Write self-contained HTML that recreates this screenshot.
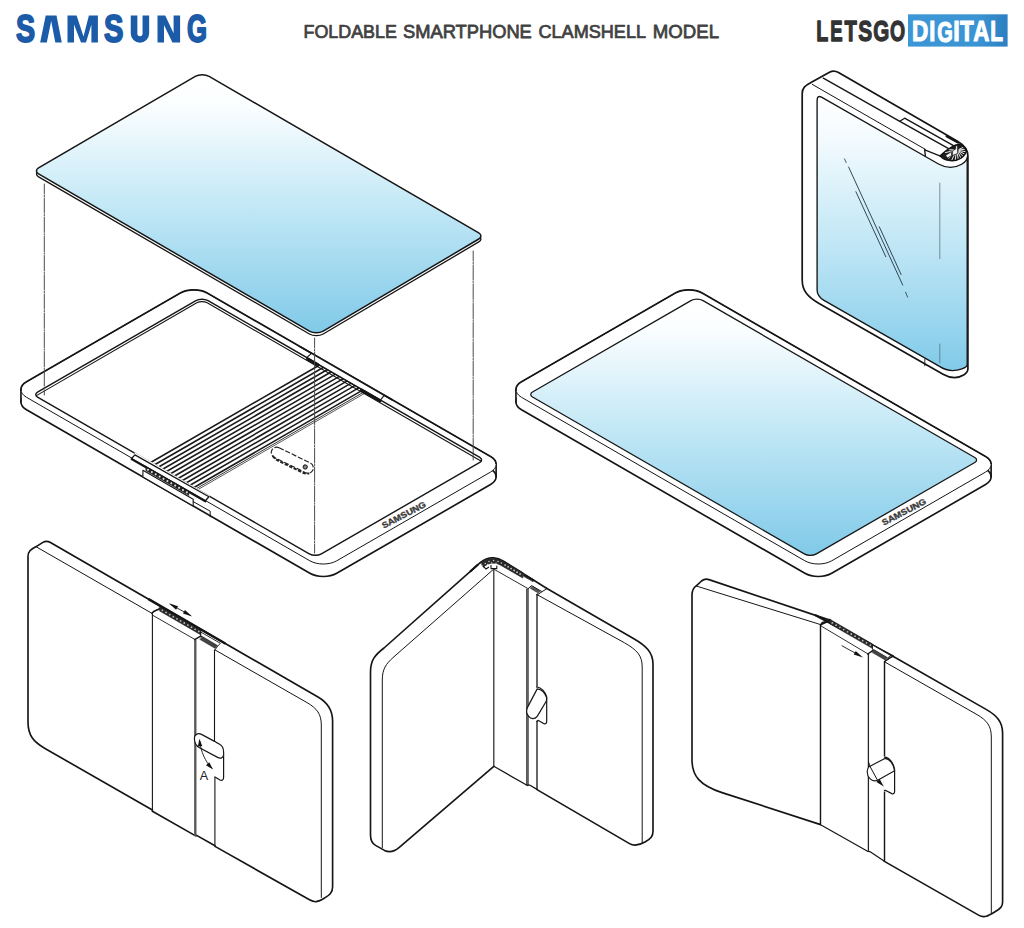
<!DOCTYPE html>
<html><head><meta charset="utf-8"><title>Foldable smartphone clamshell model</title>
<style>html,body{margin:0;padding:0;background:#fff}body{width:1024px;height:928px;overflow:hidden;font-family:"Liberation Sans",sans-serif}svg{display:block}</style>
</head><body>
<svg width="1024" height="928" viewBox="0 0 1024 928">
<rect width="1024" height="928" fill="#ffffff"/>
<defs>
<linearGradient id="gg" gradientUnits="userSpaceOnUse" x1="0" y1="74" x2="0" y2="336"><stop offset="0" stop-color="#ffffff"/><stop offset="0.12" stop-color="#fbfeff"/><stop offset="0.5" stop-color="#c3e8f6"/><stop offset="1" stop-color="#7fc9e8"/></linearGradient>
<linearGradient id="gs" gradientUnits="userSpaceOnUse" x1="0" y1="297" x2="0" y2="558"><stop offset="0" stop-color="#ffffff"/><stop offset="0.12" stop-color="#fbfeff"/><stop offset="0.5" stop-color="#c3e8f6"/><stop offset="1" stop-color="#7fc9e8"/></linearGradient>
<linearGradient id="g4" gradientUnits="userSpaceOnUse" x1="0" y1="95" x2="0" y2="372"><stop offset="0" stop-color="#ffffff"/><stop offset="0.15" stop-color="#f4fbfe"/><stop offset="0.55" stop-color="#bfe6f5"/><stop offset="1" stop-color="#80cae9"/></linearGradient>
<linearGradient id="gd" x1="0" y1="0" x2="1" y2="0"><stop offset="0" stop-color="#3d97d6"/><stop offset="0.7" stop-color="#3a94d4"/><stop offset="1" stop-color="#2c7fc0"/></linearGradient>
<clipPath id="c4h"><path d="M940.6 155.9 C943.5 158.6 947.5 160.1 952 160.1 C958 160.1 963.8 156.8 965.5 151.4 C965.4 149 963.2 146.4 959.6 145.2 C957.5 145 955.6 145.6 953.9 146.6 C949 149.4 944.4 152.6 940.6 155.9 Z"/></clipPath>
</defs>
<text transform="translate(15.99,42.16) scale(0.7417,1)" font-family="Liberation Sans, sans-serif" font-weight="bold" font-size="38.59" fill="#1b5ba8" stroke="#1b5ba8" stroke-width="1.9" stroke-linejoin="round">S</text>
<polygon points="40.15,42.6 45.7,15.6 56.5,15.6 61.8,42.6 55.3,42.6 51.2,21.0 46.8,42.6" fill="#1b5ba8"/>
<polygon points="67.5,42.6 67.5,15.6 76.6,15.6 83.5,36.5 88.9,15.6 97.9,15.6 97.9,42.6 91.4,42.6 91.4,24.5 86.0,42.6 81.0,42.6 74.0,24.5 74.0,42.6" fill="#1b5ba8"/>
<text transform="translate(103.98,42.16) scale(0.7547,1)" font-family="Liberation Sans, sans-serif" font-weight="bold" font-size="38.59" fill="#1b5ba8" stroke="#1b5ba8" stroke-width="1.9" stroke-linejoin="round">S</text>
<path d="M134.05 15.6 V33.6 A5.9 5.9 0 0 0 145.85 33.6 V15.6" fill="none" stroke="#1b5ba8" stroke-width="6.6"/>
<polygon points="157.5,42.6 157.5,15.6 165.2,15.6 173.6,33.2 173.6,15.6 180.1,15.6 180.1,42.6 172.4,42.6 164.0,25.0 164.0,42.6" fill="#1b5ba8"/>
<text transform="translate(187.12,42.16) scale(0.6681,1)" font-family="Liberation Sans, sans-serif" font-weight="bold" font-size="38.59" fill="#1b5ba8" stroke="#1b5ba8" stroke-width="1.9" stroke-linejoin="round">G</text>
<text transform="translate(303.50,37.73) scale(0.9720,1)" font-family="Liberation Sans, sans-serif" font-weight="normal" font-size="18.39" fill="#414141" stroke="#414141" stroke-width="0.75" stroke-linejoin="round">FOLDABLE</text>
<text transform="translate(402.95,37.73) scale(0.9966,1)" font-family="Liberation Sans, sans-serif" font-weight="normal" font-size="18.39" fill="#414141" stroke="#414141" stroke-width="0.75" stroke-linejoin="round">SMARTPHONE</text>
<text transform="translate(538.47,37.73) scale(0.9838,1)" font-family="Liberation Sans, sans-serif" font-weight="normal" font-size="18.39" fill="#414141" stroke="#414141" stroke-width="0.75" stroke-linejoin="round">CLAMSHELL</text>
<text transform="translate(652.84,37.73) scale(1.0126,1)" font-family="Liberation Sans, sans-serif" font-weight="normal" font-size="18.39" fill="#414141" stroke="#414141" stroke-width="0.75" stroke-linejoin="round">MODEL</text>
<rect x="908" y="14.3" width="99.6" height="32.3" fill="url(#gd)"/>
<text transform="translate(816.22,41.35) scale(0.6614,1)" font-family="Liberation Sans, sans-serif" font-weight="bold" font-size="29.80" fill="#333333" stroke="#333333" stroke-width="1.3" stroke-linejoin="round">L</text>
<text transform="translate(830.20,41.35) scale(0.6233,1)" font-family="Liberation Sans, sans-serif" font-weight="bold" font-size="29.80" fill="#333333" stroke="#333333" stroke-width="1.3" stroke-linejoin="round">E</text>
<text transform="translate(844.40,41.35) scale(0.6798,1)" font-family="Liberation Sans, sans-serif" font-weight="bold" font-size="29.80" fill="#333333" stroke="#333333" stroke-width="1.3" stroke-linejoin="round">T</text>
<text transform="translate(858.22,41.45) scale(0.6949,1)" font-family="Liberation Sans, sans-serif" font-weight="bold" font-size="30.11" fill="#333333" stroke="#333333" stroke-width="1.3" stroke-linejoin="round">S</text>
<text transform="translate(873.33,41.45) scale(0.6840,1)" font-family="Liberation Sans, sans-serif" font-weight="bold" font-size="30.11" fill="#333333" stroke="#333333" stroke-width="1.3" stroke-linejoin="round">G</text>
<text transform="translate(890.07,41.45) scale(0.6452,1)" font-family="Liberation Sans, sans-serif" font-weight="bold" font-size="30.11" fill="#333333" stroke="#333333" stroke-width="1.3" stroke-linejoin="round">O</text>
<text transform="translate(911.98,41.40) scale(0.7525,1)" font-family="Liberation Sans, sans-serif" font-weight="bold" font-size="29.94" fill="#ffffff" stroke="#ffffff" stroke-width="1.2" stroke-linejoin="round">D</text>
<text transform="translate(929.33,41.40) scale(0.7266,1)" font-family="Liberation Sans, sans-serif" font-weight="bold" font-size="29.94" fill="#ffffff" stroke="#ffffff" stroke-width="1.2" stroke-linejoin="round">I</text>
<text transform="translate(937.30,41.50) scale(0.6612,1)" font-family="Liberation Sans, sans-serif" font-weight="bold" font-size="30.25" fill="#ffffff" stroke="#ffffff" stroke-width="1.2" stroke-linejoin="round">G</text>
<text transform="translate(953.34,41.40) scale(0.7734,1)" font-family="Liberation Sans, sans-serif" font-weight="bold" font-size="29.94" fill="#ffffff" stroke="#ffffff" stroke-width="1.2" stroke-linejoin="round">I</text>
<text transform="translate(960.02,41.40) scale(0.7504,1)" font-family="Liberation Sans, sans-serif" font-weight="bold" font-size="29.94" fill="#ffffff" stroke="#ffffff" stroke-width="1.2" stroke-linejoin="round">T</text>
<text transform="translate(973.14,41.40) scale(0.7477,1)" font-family="Liberation Sans, sans-serif" font-weight="bold" font-size="29.94" fill="#ffffff" stroke="#ffffff" stroke-width="1.2" stroke-linejoin="round">A</text>
<text transform="translate(990.29,41.40) scale(0.6973,1)" font-family="Liberation Sans, sans-serif" font-weight="bold" font-size="29.94" fill="#ffffff" stroke="#ffffff" stroke-width="1.2" stroke-linejoin="round">L</text>
<g transform="translate(0,0)">
<path d="M180.34 305.55 C187.75 301.27 199.77 301.27 207.19 305.55 L490.56 469.05 C497.98 473.33 497.98 480.27 490.56 484.55 L336.74 573.30 C329.32 577.58 317.30 577.58 309.88 573.30 L26.51 409.80 C19.10 405.52 19.10 398.58 26.51 394.30 Z" fill="#fff" stroke="#151515" stroke-width="1.65" stroke-linejoin="round" stroke-linecap="round" />
<rect x="21.65" y="389.55" width="473.77" height="12.50" fill="#fff"/>
<line x1="20.95" y1="389.55" x2="20.95" y2="402.05" stroke="#151515" stroke-width="1.65" stroke-linecap="round" />
<line x1="496.12" y1="464.30" x2="496.12" y2="476.80" stroke="#151515" stroke-width="1.65" stroke-linecap="round" />
<path d="M180.34 293.05 C187.75 288.77 199.77 288.77 207.19 293.05 L490.56 456.55 C497.98 460.83 497.98 467.77 490.56 472.05 L336.74 560.80 C329.32 565.08 317.30 565.08 309.88 560.80 L26.51 397.30 C19.10 393.02 19.10 386.08 26.51 381.80 Z" fill="#fff" stroke="#151515" stroke-width="1.0" stroke-linejoin="round" stroke-linecap="round" />
<clipPath id="cua"><polygon points="15.95,390.05 15.95,0 501.12,0 501.12,464.80"/></clipPath>
<path d="M180.34 293.05 C187.75 288.77 199.77 288.77 207.19 293.05 L490.56 456.55 C497.98 460.83 497.98 467.77 490.56 472.05 L336.74 560.80 C329.32 565.08 317.30 565.08 309.88 560.80 L26.51 397.30 C19.10 393.02 19.10 386.08 26.51 381.80 Z" fill="none" stroke="#151515" stroke-width="1.65" stroke-linejoin="round" stroke-linecap="round" clip-path="url(#cua)"/>
<path d="M195.93 300.65 C199.28 298.72 204.71 298.72 208.06 300.65 L479.81 457.45 C482.20 458.83 482.20 461.07 479.81 462.45 L321.40 553.85 C318.05 555.78 312.62 555.78 309.27 553.85 L37.52 397.05 C35.13 395.67 35.13 393.43 37.52 392.05 Z" fill="none" stroke="#151515" stroke-width="1.4" stroke-linejoin="round" stroke-linecap="round" />
<path d="M36.40 395.65 C36.39 395.65 36.39 395.65 36.40 395.64 L196.80 302.85 C199.67 301.20 204.32 301.19 207.19 302.85 L480.93 461.04 C480.94 461.05 480.94 461.05 480.93 461.05 " fill="none" stroke="#151515" stroke-width="1.1" stroke-linejoin="round" stroke-linecap="round" />
<line x1="148.50" y1="463.72" x2="320.50" y2="364.47" stroke="#1a1a1a" stroke-width="1.55" stroke-linecap="round" />
<line x1="152.48" y1="465.97" x2="324.45" y2="366.74" stroke="#1a1a1a" stroke-width="1.55" stroke-linecap="round" />
<line x1="156.46" y1="468.22" x2="328.40" y2="369.01" stroke="#1a1a1a" stroke-width="1.55" stroke-linecap="round" />
<line x1="160.44" y1="470.48" x2="332.35" y2="371.28" stroke="#1a1a1a" stroke-width="1.55" stroke-linecap="round" />
<line x1="164.42" y1="472.73" x2="336.30" y2="373.55" stroke="#1a1a1a" stroke-width="1.55" stroke-linecap="round" />
<line x1="168.40" y1="474.98" x2="340.25" y2="375.83" stroke="#1a1a1a" stroke-width="1.55" stroke-linecap="round" />
<line x1="172.38" y1="477.24" x2="344.20" y2="378.10" stroke="#1a1a1a" stroke-width="1.55" stroke-linecap="round" />
<line x1="176.36" y1="479.49" x2="348.15" y2="380.37" stroke="#1a1a1a" stroke-width="1.55" stroke-linecap="round" />
<line x1="180.34" y1="481.74" x2="352.10" y2="382.64" stroke="#1a1a1a" stroke-width="1.55" stroke-linecap="round" />
<line x1="184.32" y1="484.00" x2="356.05" y2="384.91" stroke="#1a1a1a" stroke-width="1.55" stroke-linecap="round" />
<line x1="188.30" y1="486.25" x2="360.00" y2="387.18" stroke="#1a1a1a" stroke-width="1.55" stroke-linecap="round" />
<line x1="192.28" y1="488.50" x2="363.95" y2="389.45" stroke="#1a1a1a" stroke-width="1.55" stroke-linecap="round" />
<line x1="196.50" y1="488.57" x2="366.50" y2="390.48" stroke="#151515" stroke-width="0.85" stroke-linecap="round" />
<line x1="198.00" y1="489.53" x2="367.70" y2="391.61" stroke="#151515" stroke-width="0.7" stroke-linecap="round" />
<path d="M134.6 452.3 L209.4 495.4 L209.4 497.6 L134.6 454.6 Z" fill="#fff" stroke="#fff" stroke-width="0.1" stroke-linejoin="round" stroke-linecap="round" />
<path d="M134.9 454.9 L208.9 496.7 L205.4 500.7 L131.6 458.5 Z" fill="#fff" stroke="#151515" stroke-width="1.3" stroke-linejoin="round" stroke-linecap="round" />
<line x1="131.60" y1="459.10" x2="205.40" y2="501.30" stroke="#151515" stroke-width="2.2" stroke-linecap="round" />
<path d="M142.9 470.2 L193.2 499.3 L193.2 506.0 L142.9 477.0 Z" fill="#fff" stroke="#151515" stroke-width="1.1" stroke-linejoin="round" stroke-linecap="round" />
<path d="M146.0 466.6 L188.8 491.4 L188.8 495.6 L146.0 470.8 Z" fill="#222" stroke="#151515" stroke-width="0.5" stroke-linejoin="round" stroke-linecap="round" />
<circle cx="147.95" cy="469.83" r="1.05" fill="#ddd"/>
<circle cx="151.84" cy="472.08" r="1.05" fill="#ddd"/>
<circle cx="155.73" cy="474.34" r="1.05" fill="#ddd"/>
<circle cx="159.62" cy="476.59" r="1.05" fill="#ddd"/>
<circle cx="163.51" cy="478.85" r="1.05" fill="#ddd"/>
<circle cx="167.40" cy="481.10" r="1.05" fill="#ddd"/>
<circle cx="171.29" cy="483.35" r="1.05" fill="#ddd"/>
<circle cx="175.18" cy="485.61" r="1.05" fill="#ddd"/>
<circle cx="179.07" cy="487.86" r="1.05" fill="#ddd"/>
<circle cx="182.96" cy="490.12" r="1.05" fill="#ddd"/>
<circle cx="186.85" cy="492.37" r="1.05" fill="#ddd"/>
<path d="M193.2 501.6 L210.2 511.2 L210.2 516.8" fill="none" stroke="#151515" stroke-width="1.0" stroke-linejoin="round" stroke-linecap="round" />
<path d="M311.4 352.9 L384.4 395.0 L380.4 399.9 L307.0 357.5 Z" fill="#fff" stroke="#fff" stroke-width="0.1" stroke-linejoin="round" stroke-linecap="round" />
<path d="M311.2 353.6 L307.0 357.4 M384.0 395.6 L380.4 400.2" fill="none" stroke="#151515" stroke-width="1.1" stroke-linejoin="round" stroke-linecap="round" />
<line x1="307.00" y1="357.80" x2="380.40" y2="400.20" stroke="#151515" stroke-width="1.5" stroke-linecap="round" />
<line x1="307.60" y1="358.90" x2="318.00" y2="364.90" stroke="#151515" stroke-width="3.0" stroke-linecap="round" />
<line x1="361.50" y1="390.10" x2="379.80" y2="400.70" stroke="#151515" stroke-width="3.2" stroke-linecap="round" />
<line x1="300.00" y1="346.60" x2="392.00" y2="399.68" stroke="#151515" stroke-width="1.65" stroke-linecap="round" />
<g transform="translate(292.3,460.2) rotate(26)"><rect x="-22.8" y="-5.4" width="45.6" height="10.8" rx="5.4" fill="none" stroke="#222" stroke-width="1.15" stroke-dasharray="5.2 1.8"/><path d="M-19.5 4.6 C-17 6.4 -14 6.6 -10 6.6 L12 6.6 C16 6.6 19 6.2 21 4.4" fill="none" stroke="#222" stroke-width="2.0" stroke-dasharray="3.4 1.5"/><circle cx="14.6" cy="0.4" r="2.0" fill="#888" stroke="#222" stroke-width="1.0"/></g>
<text transform="translate(403.8,515.0) rotate(-27.5)" text-anchor="middle" font-family="Liberation Sans, sans-serif" font-weight="bold" font-size="8.6" fill="#3a3a3a" stroke="#3a3a3a" stroke-width="0.35" textLength="48.5" lengthAdjust="spacingAndGlyphs" dy="2.9">SAMSUNG</text>
</g>
<path d="M195.29 79.28 C199.10 77.06 205.29 77.05 209.11 79.27 L478.75 235.84 C481.62 237.50 481.63 240.22 478.78 241.91 L323.22 333.98 C319.42 336.23 313.24 336.25 309.42 334.03 L38.58 176.86 C35.71 175.20 35.71 172.50 38.57 170.82 Z" fill="#fff" stroke="#151515" stroke-width="1.3" stroke-linejoin="round" stroke-linecap="round" />
<path d="M195.29 76.38 C199.10 74.16 205.29 74.15 209.11 76.37 L478.75 232.94 C481.62 234.60 481.63 237.32 478.78 239.01 L323.22 331.08 C319.42 333.33 313.24 333.35 309.42 331.13 L38.58 173.96 C35.71 172.30 35.71 169.60 38.57 167.92 Z" fill="url(#gg)" stroke="#151515" stroke-width="1.5" stroke-linejoin="round" stroke-linecap="round" />
<line x1="44.30" y1="184.00" x2="44.30" y2="395.00" stroke="#4a4a4a" stroke-width="1.0" stroke-linecap="round" stroke-dasharray="15.3 1.3 1.3 1.3" stroke-dashoffset="5.3"/>
<line x1="473.20" y1="251.00" x2="473.20" y2="460.00" stroke="#4a4a4a" stroke-width="1.0" stroke-linecap="round" stroke-dasharray="15.3 1.3 1.3 1.3" stroke-dashoffset="5.3"/>
<line x1="314.60" y1="338.00" x2="314.60" y2="553.00" stroke="#4a4a4a" stroke-width="1.0" stroke-linecap="round" stroke-dasharray="15.3 1.3 1.3 1.3" stroke-dashoffset="5.3"/>
<g transform="translate(495.0,0)">
<path d="M180.34 305.55 C187.75 301.27 199.77 301.27 207.19 305.55 L490.56 469.05 C497.98 473.33 497.98 480.27 490.56 484.55 L336.74 573.30 C329.32 577.58 317.30 577.58 309.88 573.30 L26.51 409.80 C19.10 405.52 19.10 398.58 26.51 394.30 Z" fill="#fff" stroke="#151515" stroke-width="1.65" stroke-linejoin="round" stroke-linecap="round" />
<rect x="21.65" y="389.55" width="473.77" height="12.50" fill="#fff"/>
<line x1="20.95" y1="389.55" x2="20.95" y2="402.05" stroke="#151515" stroke-width="1.65" stroke-linecap="round" />
<line x1="496.12" y1="464.30" x2="496.12" y2="476.80" stroke="#151515" stroke-width="1.65" stroke-linecap="round" />
<path d="M180.34 293.05 C187.75 288.77 199.77 288.77 207.19 293.05 L490.56 456.55 C497.98 460.83 497.98 467.77 490.56 472.05 L336.74 560.80 C329.32 565.08 317.30 565.08 309.88 560.80 L26.51 397.30 C19.10 393.02 19.10 386.08 26.51 381.80 Z" fill="#fff" stroke="#151515" stroke-width="1.0" stroke-linejoin="round" stroke-linecap="round" />
<clipPath id="cub"><polygon points="15.95,390.05 15.95,0 501.12,0 501.12,464.80"/></clipPath>
<path d="M180.34 293.05 C187.75 288.77 199.77 288.77 207.19 293.05 L490.56 456.55 C497.98 460.83 497.98 467.77 490.56 472.05 L336.74 560.80 C329.32 565.08 317.30 565.08 309.88 560.80 L26.51 397.30 C19.10 393.02 19.10 386.08 26.51 381.80 Z" fill="none" stroke="#151515" stroke-width="1.65" stroke-linejoin="round" stroke-linecap="round" clip-path="url(#cub)"/>
<path d="M195.93 300.65 C199.28 298.72 204.71 298.72 208.06 300.65 L479.81 457.45 C482.20 458.83 482.20 461.07 479.81 462.45 L321.40 553.85 C318.05 555.78 312.62 555.78 309.27 553.85 L37.52 397.05 C35.13 395.67 35.13 393.43 37.52 392.05 Z" fill="url(#gs)" stroke="#151515" stroke-width="1.25" stroke-linejoin="round" stroke-linecap="round" />
<text transform="translate(409.0,512.0) rotate(-27.5)" text-anchor="middle" font-family="Liberation Sans, sans-serif" font-weight="bold" font-size="8.6" fill="#3a3a3a" stroke="#3a3a3a" stroke-width="0.35" textLength="48.5" lengthAdjust="spacingAndGlyphs" dy="2.9">SAMSUNG</text>
</g>
<path d="M802.2 280 L802.2 93.5 C802.2 88 805 85.8 811 82.6 L829.5 72.3 C832.5 70.6 835.5 70.8 838.5 72.6 L957.5 141.3 C963.5 144.8 967.9 149 967.9 156 L967.9 369 C967.9 373.5 961 377.6 954.6 377.6 C950 377.6 947 376.5 943.5 374.5 L819.5 303.8 C808 297.2 802.2 291 802.2 280 Z" fill="#fff" stroke="#151515" stroke-width="1.7" stroke-linejoin="round" stroke-linecap="round" />
<path d="M817.1 290 L817.1 100.5 C817.1 96.8 818.6 95.6 821.5 97.2 L938.5 164.0 C942 166 946 167.3 950.5 167.3 C958 167.3 967.2 162.5 967.2 157 L967.2 364.5 C967.2 368 958 370.6 952.4 370.6 C947 370.6 943 368.6 939.5 366.4 L824 300.4 C819 297.4 817.1 294.5 817.1 290 Z" fill="url(#g4)" stroke="#151515" stroke-width="1.35" stroke-linejoin="round" stroke-linecap="round" />
<line x1="812.30" y1="84.40" x2="925.20" y2="149.30" stroke="#151515" stroke-width="1.0" stroke-linecap="round" />
<path d="M823.3 78.2 L899.8 121.3 L948.6 148.6" fill="none" stroke="#151515" stroke-width="1.35" stroke-linejoin="round" stroke-linecap="round" />
<path d="M899.8 121.3 L904.6 118.2 L953.5 145.6" fill="none" stroke="#151515" stroke-width="1.35" stroke-linejoin="round" stroke-linecap="round" />
<line x1="946.60" y1="136.20" x2="958.00" y2="142.60" stroke="#151515" stroke-width="2.2" stroke-linecap="round" />
<path d="M924.6 149.3 L925.4 156.2 M925.4 150.2 L939.8 155.8" fill="none" stroke="#151515" stroke-width="1.35" stroke-linejoin="round" stroke-linecap="round" />
<path d="M939.8 155.9 C943 159.2 947.5 160.9 952 160.9 C958.5 160.9 964.6 157.2 966.3 151.4 C966.2 148.6 963.6 145.6 959.6 144.4 C957.5 144.2 955.4 144.8 953.5 145.8 C948.5 148.6 943.6 152.4 939.8 155.9 Z" fill="#1c1c1c" stroke="#111" stroke-width="1.3"/>
<line x1="958.96" y1="149.35" x2="967.02" y2="145.55" stroke="#f4f4f4" stroke-width="0.95" stroke-linecap="round" clip-path="url(#c4h)"/>
<line x1="959.18" y1="149.94" x2="968.00" y2="148.76" stroke="#f4f4f4" stroke-width="0.95" stroke-linecap="round" clip-path="url(#c4h)"/>
<line x1="959.16" y1="150.55" x2="967.93" y2="152.11" stroke="#f4f4f4" stroke-width="0.95" stroke-linecap="round" clip-path="url(#c4h)"/>
<line x1="958.91" y1="151.12" x2="966.80" y2="155.28" stroke="#f4f4f4" stroke-width="0.95" stroke-linecap="round" clip-path="url(#c4h)"/>
<line x1="958.44" y1="151.61" x2="964.73" y2="157.98" stroke="#f4f4f4" stroke-width="0.95" stroke-linecap="round" clip-path="url(#c4h)"/>
<line x1="957.80" y1="151.97" x2="961.91" y2="159.96" stroke="#f4f4f4" stroke-width="0.95" stroke-linecap="round" clip-path="url(#c4h)"/>
<line x1="957.05" y1="152.17" x2="958.60" y2="161.03" stroke="#f4f4f4" stroke-width="0.95" stroke-linecap="round" clip-path="url(#c4h)"/>
<line x1="956.26" y1="152.18" x2="955.10" y2="161.11" stroke="#f4f4f4" stroke-width="0.95" stroke-linecap="round" clip-path="url(#c4h)"/>
<line x1="955.50" y1="152.01" x2="951.74" y2="160.17" stroke="#f4f4f4" stroke-width="0.95" stroke-linecap="round" clip-path="url(#c4h)"/>
<line x1="954.84" y1="151.67" x2="948.83" y2="158.31" stroke="#f4f4f4" stroke-width="0.95" stroke-linecap="round" clip-path="url(#c4h)"/>
<line x1="954.35" y1="151.20" x2="946.64" y2="155.70" stroke="#f4f4f4" stroke-width="0.95" stroke-linecap="round" clip-path="url(#c4h)"/>
<line x1="954.06" y1="150.63" x2="945.37" y2="152.58" stroke="#f4f4f4" stroke-width="0.95" stroke-linecap="round" clip-path="url(#c4h)"/>
<line x1="954.01" y1="150.03" x2="945.14" y2="149.24" stroke="#f4f4f4" stroke-width="0.95" stroke-linecap="round" clip-path="url(#c4h)"/>
<path d="M945.6 155.4 L951.4 151.6 L951.4 155.8 L947.4 158.0 Z" fill="#f4f4f4" stroke="#111" stroke-width="0.7"/>
<path d="M952.6 151.0 L955.6 149.0 L955.6 146.2 L957.6 145.4 L957.6 153.4 L952.6 155.6 Z" fill="#f4f4f4" stroke="#111" stroke-width="0.7"/>
<line x1="844.50" y1="158.90" x2="846.20" y2="162.60" stroke="#234" stroke-width="0.8" stroke-linecap="round" />
<line x1="848.60" y1="167.00" x2="902.70" y2="285.00" stroke="#234" stroke-width="0.9" stroke-linecap="round" />
<line x1="855.90" y1="191.70" x2="885.80" y2="256.70" stroke="#234" stroke-width="0.9" stroke-linecap="round" />
<line x1="879.30" y1="226.80" x2="901.10" y2="274.50" stroke="#234" stroke-width="0.9" stroke-linecap="round" />
<line x1="905.60" y1="292.20" x2="907.60" y2="297.10" stroke="#234" stroke-width="0.8" stroke-linecap="round" />
<line x1="939.80" y1="183.10" x2="939.80" y2="258.60" stroke="#567" stroke-width="0.7" stroke-linecap="round" />
<line x1="939.80" y1="344.00" x2="939.80" y2="362.70" stroke="#567" stroke-width="0.7" stroke-linecap="round" />
<line x1="924.80" y1="359.30" x2="924.80" y2="365.80" stroke="#151515" stroke-width="0.9" stroke-linecap="round" />
<path d="M28 722 L28 556.5 C28 551.5 30.5 549.6 36.2 546.6 L42.5 542.6 C45.5 540.8 47.5 540.8 50 542.3 L318 697 C328 702.8 332.6 710 332.6 721 L332.6 887 C332.6 892.5 330 895 323 899 C317.5 902.3 314.5 902.6 309.5 899.8 L215 846.4 L215 845.8 L196.6 835.4 L195.2 835.6 L152.4 811.2 L152.4 810 L45 748.5 C33 741.5 28 735 28 722 Z" fill="#fff" stroke="#151515" stroke-width="1.65" stroke-linejoin="round" stroke-linecap="round" />
<line x1="36.20" y1="546.80" x2="151.90" y2="613.30" stroke="#151515" stroke-width="1.0" stroke-linecap="round" />
<path d="M215.3 650.1 L307 702.6 C317 708.4 321.3 714 321.3 725 L321.3 897.5" fill="none" stroke="#151515" stroke-width="1.0" stroke-linejoin="round" stroke-linecap="round" />
<line x1="152.40" y1="613.80" x2="152.40" y2="811.00" stroke="#151515" stroke-width="1.1" stroke-linecap="round" />
<line x1="195.30" y1="640.40" x2="195.30" y2="835.20" stroke="#555" stroke-width="2.3" stroke-linecap="round" />
<line x1="214.50" y1="650.00" x2="214.50" y2="742.40" stroke="#151515" stroke-width="1.1" stroke-linecap="round" />
<line x1="214.90" y1="776.80" x2="214.90" y2="846.00" stroke="#151515" stroke-width="1.1" stroke-linecap="round" />
<line x1="149.00" y1="599.40" x2="224.80" y2="643.20" stroke="#151515" stroke-width="2.4" stroke-linecap="round" />
<path d="M152.0 613.3 L153.6 611.6 L160.2 608.6" fill="none" stroke="#151515" stroke-width="1.6" stroke-linejoin="round" stroke-linecap="round" />
<line x1="153.10" y1="615.50" x2="194.60" y2="639.30" stroke="#151515" stroke-width="0.9" stroke-linecap="round" />
<path d="M194.6 639.6 L201.1 635.9" fill="none" stroke="#151515" stroke-width="1.4" stroke-linejoin="round" stroke-linecap="round" />
<path d="M159.6 606.6 L201.0 630.6 L201.0 635.0 L159.6 611.0 Z" fill="#2a2a2a" stroke="#151515" stroke-width="0.5" stroke-linejoin="round" stroke-linecap="round" />
<circle cx="162.42" cy="610.35" r="0.9" fill="#bbb"/>
<circle cx="166.05" cy="612.46" r="0.9" fill="#bbb"/>
<circle cx="169.69" cy="614.57" r="0.9" fill="#bbb"/>
<circle cx="173.33" cy="616.68" r="0.9" fill="#bbb"/>
<circle cx="176.96" cy="618.79" r="0.9" fill="#bbb"/>
<circle cx="180.60" cy="620.90" r="0.9" fill="#bbb"/>
<circle cx="184.24" cy="623.01" r="0.9" fill="#bbb"/>
<circle cx="187.87" cy="625.12" r="0.9" fill="#bbb"/>
<circle cx="191.51" cy="627.23" r="0.9" fill="#bbb"/>
<circle cx="195.15" cy="629.34" r="0.9" fill="#bbb"/>
<circle cx="198.78" cy="631.45" r="0.9" fill="#bbb"/>
<path d="M201.1 632.2 L220.4 643.3 L217.6 646.2 L201.1 636.4 Z" fill="#fff" stroke="#151515" stroke-width="0.9" stroke-linejoin="round" stroke-linecap="round" />
<path d="M202 636.2 L217.2 645.2 L215.2 648.4 L200.0 639.6 Z" fill="#444" stroke="#151515" stroke-width="0.4" stroke-linejoin="round" stroke-linecap="round" />
<line x1="214.90" y1="650.00" x2="217.60" y2="646.20" stroke="#151515" stroke-width="0.9" stroke-linecap="round" />
<line x1="171.00" y1="604.60" x2="190.00" y2="615.20" stroke="#151515" stroke-width="0.9" stroke-linecap="round" />
<polygon points="168.80,603.30 178.05,606.24 176.08,609.72" fill="#111"/>
<polygon points="192.20,616.50 182.95,613.56 184.92,610.08" fill="#111"/>
<path d="M214.5 741.4 L219.6 744.2 C222.5 745.8 223.6 748.6 223.6 752 L223.6 777.6 C223.6 779.8 222 781 220 780 L215.4 777.2" fill="#fff" stroke="#151515" stroke-width="1.2" stroke-linejoin="round" stroke-linecap="round" />
<path d="M214.5 741.4 L201.5 734.4 C198.2 732.6 194.6 734.2 194.4 738 C194.2 743 196.5 746.2 200 748 L217.6 757.4 C220.5 758.9 223.6 758 223.6 754.6" fill="#fff" stroke="#151515" stroke-width="1.2" stroke-linejoin="round" stroke-linecap="round" />
<path d="M199.8 741.5 C201 752 205 761 211.6 768" fill="none" stroke="#151515" stroke-width="0.9" stroke-linejoin="round" stroke-linecap="round" />
<polygon points="199.40,738.80 202.25,746.08 197.86,746.46" fill="#111"/>
<polygon points="213.00,769.60 206.01,765.13 209.28,762.18" fill="#111"/>
<text x="204" y="779.6" text-anchor="middle" font-family="Liberation Sans, sans-serif" font-size="12.6" fill="#222">A</text>
<path d="M537 594.6 L546.5 588.2 L633 638.2 C646 645.7 653 652 653 664 L653 831 C653 836.5 651 838.8 645 842 C639 845.4 634.5 846.4 629.5 843.6 L537 789.6 Z" fill="#fff" stroke="#fff" stroke-width="0.1" stroke-linejoin="round" stroke-linecap="round" />
<path d="M537 594.6 L546.5 588.2 L633 638.2 C646 645.7 653 652 653 664 L653 831 C653 836.5 651 838.8 645 842 C639 845.4 634.5 846.4 629.5 843.6 L537 789.6" fill="none" stroke="#151515" stroke-width="1.65" stroke-linejoin="round" stroke-linecap="round" />
<path d="M537 594.6 L624.5 642.8 C637 650 642.2 655.5 642.2 667 L642.2 843.4" fill="none" stroke="#151515" stroke-width="1.0" stroke-linejoin="round" stroke-linecap="round" />
<path d="M493.8 569 L493.8 766.3 L399 847.6 C394 851.8 390 853 384.5 850.4 L375.5 845.4 C371.5 843 370.5 840 370.5 835 L370.5 672 C370.5 660 375 655 384 648 L480.5 562.3 C485 558.6 489 557.6 493.5 557.8 C498 558 501 559.6 504 561.4 L546.5 588.2 L537 594.6 L528 589 L493.8 569 Z" fill="#fff" stroke="#fff" stroke-width="0.1" stroke-linejoin="round" stroke-linecap="round" />
<path d="M493.8 766.3 L399 847.6 C394 851.8 390 853 384.5 850.4 L375.5 845.4 C371.5 843 370.5 840 370.5 835 L370.5 672 C370.5 660 375 655 384 648 L480.5 562.3 C485 558.6 489 557.6 493.5 557.8 C498 558 501 559.6 504 561.4 L546.5 588.2" fill="none" stroke="#151515" stroke-width="1.65" stroke-linejoin="round" stroke-linecap="round" />
<path d="M382.3 847.6 L382.3 680 C382.3 669 386 664 393 657.6 L493.4 569.4" fill="none" stroke="#151515" stroke-width="1.0" stroke-linejoin="round" stroke-linecap="round" />
<line x1="493.80" y1="569.20" x2="493.80" y2="766.30" stroke="#333" stroke-width="1.3" stroke-linecap="round" />
<line x1="494.60" y1="569.60" x2="528.20" y2="588.70" stroke="#151515" stroke-width="0.9" stroke-linecap="round" />
<line x1="527.70" y1="589.20" x2="527.70" y2="785.00" stroke="#666" stroke-width="2.4" stroke-linecap="round" />
<line x1="526.60" y1="589.20" x2="526.60" y2="785.00" stroke="#222" stroke-width="0.7" stroke-linecap="round" />
<line x1="537.00" y1="594.60" x2="537.00" y2="687.20" stroke="#151515" stroke-width="1.3" stroke-linecap="round" />
<line x1="537.00" y1="721.20" x2="537.00" y2="789.40" stroke="#151515" stroke-width="1.3" stroke-linecap="round" />
<path d="M493.8 766.3 L527 785.2 L530 785.2 L537 789.4" fill="none" stroke="#151515" stroke-width="1.3" stroke-linejoin="round" stroke-linecap="round" />
<path d="M483.6 567.0 C487 563.9 490.5 563.0 494 563.2 C497.5 563.4 499.5 564.6 502 566.0 L522.8 578.0 L522.8 572.6 L504.5 561.8 C501 559.8 498 558.4 493.5 558.2 C489 558 485 559.2 480.8 562.6 Z" fill="#2a2a2a" stroke="#151515" stroke-width="0.6" stroke-linejoin="round" stroke-linecap="round" />
<circle cx="505.10" cy="565.08" r="0.9" fill="#ccc"/>
<circle cx="508.10" cy="566.85" r="0.9" fill="#ccc"/>
<circle cx="511.10" cy="568.62" r="0.9" fill="#ccc"/>
<circle cx="514.10" cy="570.38" r="0.9" fill="#ccc"/>
<circle cx="517.10" cy="572.15" r="0.9" fill="#ccc"/>
<circle cx="520.10" cy="573.92" r="0.9" fill="#ccc"/>
<circle cx="485.20" cy="563.40" r="0.75" fill="#ccc"/>
<circle cx="489.00" cy="561.40" r="0.75" fill="#ccc"/>
<circle cx="493.60" cy="560.60" r="0.75" fill="#ccc"/>
<circle cx="498.00" cy="561.40" r="0.75" fill="#ccc"/>
<circle cx="501.40" cy="563.00" r="0.75" fill="#ccc"/>
<circle cx="487.60" cy="564.60" r="0.75" fill="#ccc"/>
<circle cx="491.60" cy="563.00" r="0.75" fill="#ccc"/>
<circle cx="496.00" cy="563.20" r="0.75" fill="#ccc"/>
<path d="M483.4 566.4 L486.0 569.0 L488.6 567.2" fill="none" stroke="#151515" stroke-width="1.1" stroke-linejoin="round" stroke-linecap="round" />
<path d="M491 565.4 L491 568.6 L496.8 568.6 L496.8 566" fill="none" stroke="#151515" stroke-width="1.1" stroke-linejoin="round" stroke-linecap="round" />
<line x1="470.50" y1="571.20" x2="477.50" y2="565.00" stroke="#151515" stroke-width="2.2" stroke-linecap="round" />
<path d="M523.5 576.2 L533 581.6 L533 579.4 L524.8 574.6 Z" fill="#fff" stroke="#151515" stroke-width="0.8" stroke-linejoin="round" stroke-linecap="round" />
<line x1="524.50" y1="575.40" x2="533.50" y2="580.40" stroke="#151515" stroke-width="1.8" stroke-linecap="round" />
<path d="M528.2 588.7 L531.5 585.6 L541.5 591.4" fill="none" stroke="#151515" stroke-width="1.0" stroke-linejoin="round" stroke-linecap="round" />
<path d="M532 586.2 L539.5 590.6 L537.6 592.8 L530.4 588.4 Z" fill="#555" stroke="#151515" stroke-width="0.4" stroke-linejoin="round" stroke-linecap="round" />
<path d="M537 594.4 L540 591.2" fill="none" stroke="#151515" stroke-width="0.9" stroke-linejoin="round" stroke-linecap="round" />
<path d="M537 687 C541 687.6 545.4 691.4 546.7 697 L546.7 721.4 C546.7 723.6 545.3 724.4 543.6 723.4 L538 720.3 L537 721.3" fill="#fff" stroke="#151515" stroke-width="1.2" stroke-linejoin="round" stroke-linecap="round" />
<path d="M537.2 688.9 C541 689.4 545 692.6 546.6 697.6 C546.9 699.4 546.6 700.6 545.8 702 L537.2 716.4 C535.6 718.9 531 719.6 528.7 716.4 C526.6 713.8 526.2 711.2 527 709 C527.2 708 527.4 707.4 528 706.4 Z" fill="#fff" stroke="#151515" stroke-width="1.2" stroke-linejoin="round" stroke-linecap="round" />
<path d="M820.6 625 L820.6 824.6 L722 792.6 C700 785.5 692 776 692 760 L692 595 C692 590 693.5 587.6 696.5 585.6 L701.5 581 C704 579 706 578.6 709 579.6 L830.5 620.4 Z" fill="#fff" stroke="#151515" stroke-width="1.65" stroke-linejoin="round" stroke-linecap="round" />
<line x1="696.20" y1="586.00" x2="820.60" y2="624.60" stroke="#151515" stroke-width="1.0" stroke-linecap="round" />
<path d="M884.4 661.4 L892.5 656 L986.5 709.6 C997 715.6 1002.6 722 1002.6 733 L1002.6 902 C1002.6 906.5 1000.5 908.6 995 911.8 C989 915.4 984.5 918.4 979 915.4 L884.4 861.4 Z" fill="#fff" stroke="#151515" stroke-width="1.65" stroke-linejoin="round" stroke-linecap="round" />
<path d="M885.2 662.2 L977 714.6 C987 720.4 991.3 726 991.3 737 L991.3 912.8" fill="none" stroke="#151515" stroke-width="1.0" stroke-linejoin="round" stroke-linecap="round" />
<path d="M820.6 625 L830 620.6 L892.5 656 L884.4 661.4 L884.4 861.2 L869.8 851.6 L868 851.4 L820.6 824.8 Z" fill="#fff" stroke="#151515" stroke-width="1.2" stroke-linejoin="round" stroke-linecap="round" />
<line x1="868.40" y1="654.20" x2="868.40" y2="851.30" stroke="#222" stroke-width="1.25" stroke-linecap="round" />
<line x1="884.40" y1="757.30" x2="884.40" y2="790.60" stroke="#fff" stroke-width="2.2" stroke-linecap="round" />
<line x1="815.50" y1="615.30" x2="893.00" y2="656.20" stroke="#151515" stroke-width="2.2" stroke-linecap="round" />
<path d="M820.6 625 L822.4 622.6 L830 620.8" fill="none" stroke="#151515" stroke-width="1.6" stroke-linejoin="round" stroke-linecap="round" />
<line x1="821.40" y1="626.20" x2="867.80" y2="653.80" stroke="#151515" stroke-width="0.9" stroke-linecap="round" />
<path d="M867.8 654 L873 650.4" fill="none" stroke="#151515" stroke-width="1.4" stroke-linejoin="round" stroke-linecap="round" />
<path d="M829.4 619.0 L872.6 644.0 L872.6 648.6 L829.4 623.6 Z" fill="#2a2a2a" stroke="#151515" stroke-width="0.5" stroke-linejoin="round" stroke-linecap="round" />
<circle cx="832.30" cy="622.91" r="0.9" fill="#bbb"/>
<circle cx="836.10" cy="625.13" r="0.9" fill="#bbb"/>
<circle cx="839.90" cy="627.35" r="0.9" fill="#bbb"/>
<circle cx="843.70" cy="629.56" r="0.9" fill="#bbb"/>
<circle cx="847.50" cy="631.78" r="0.9" fill="#bbb"/>
<circle cx="851.30" cy="634.00" r="0.9" fill="#bbb"/>
<circle cx="855.10" cy="636.22" r="0.9" fill="#bbb"/>
<circle cx="858.90" cy="638.44" r="0.9" fill="#bbb"/>
<circle cx="862.70" cy="640.65" r="0.9" fill="#bbb"/>
<circle cx="866.50" cy="642.87" r="0.9" fill="#bbb"/>
<circle cx="870.30" cy="645.09" r="0.9" fill="#bbb"/>
<path d="M872.8 645.2 L890.6 655.4 L887.6 658.2 L872.8 649.6 Z" fill="#fff" stroke="#151515" stroke-width="0.9" stroke-linejoin="round" stroke-linecap="round" />
<path d="M874 649.6 L887.4 657.4 L885.4 660.2 L872.2 652.6 Z" fill="#444" stroke="#151515" stroke-width="0.4" stroke-linejoin="round" stroke-linecap="round" />
<line x1="842.00" y1="645.80" x2="858.00" y2="654.60" stroke="#151515" stroke-width="0.9" stroke-linecap="round" />
<polygon points="863.00,657.40 853.75,654.46 855.72,650.98" fill="#111"/>
<path d="M884.6 757.2 C889 757.4 893.6 763 894.6 769 L894.6 791.4 C894.6 793.6 893.2 794.4 891.4 793.4 L885.2 790.2 L884.6 790.6" fill="#fff" stroke="#151515" stroke-width="1.2" stroke-linejoin="round" stroke-linecap="round" />
<path d="M869.6 766.4 L884.9 758.4 C889.5 758.8 893.6 764 894.6 770.8 L879.0 779.4 C876 781.6 872.6 781 870.2 778.8 C867.6 776.4 866.8 772.6 867.6 769.4 C867.9 768 868.5 767.1 869.6 766.4 Z" fill="#fff" stroke="#151515" stroke-width="1.1" stroke-linejoin="round" stroke-linecap="round" />
<path d="M868.8 762.6 L869.8 766.0 L877.4 780.0" fill="none" stroke="#151515" stroke-width="1.0" stroke-linejoin="round" stroke-linecap="round" />
<polygon points="883.80,786.60 876.39,781.88 879.61,778.88" fill="#111"/>
</svg>
</body></html>
